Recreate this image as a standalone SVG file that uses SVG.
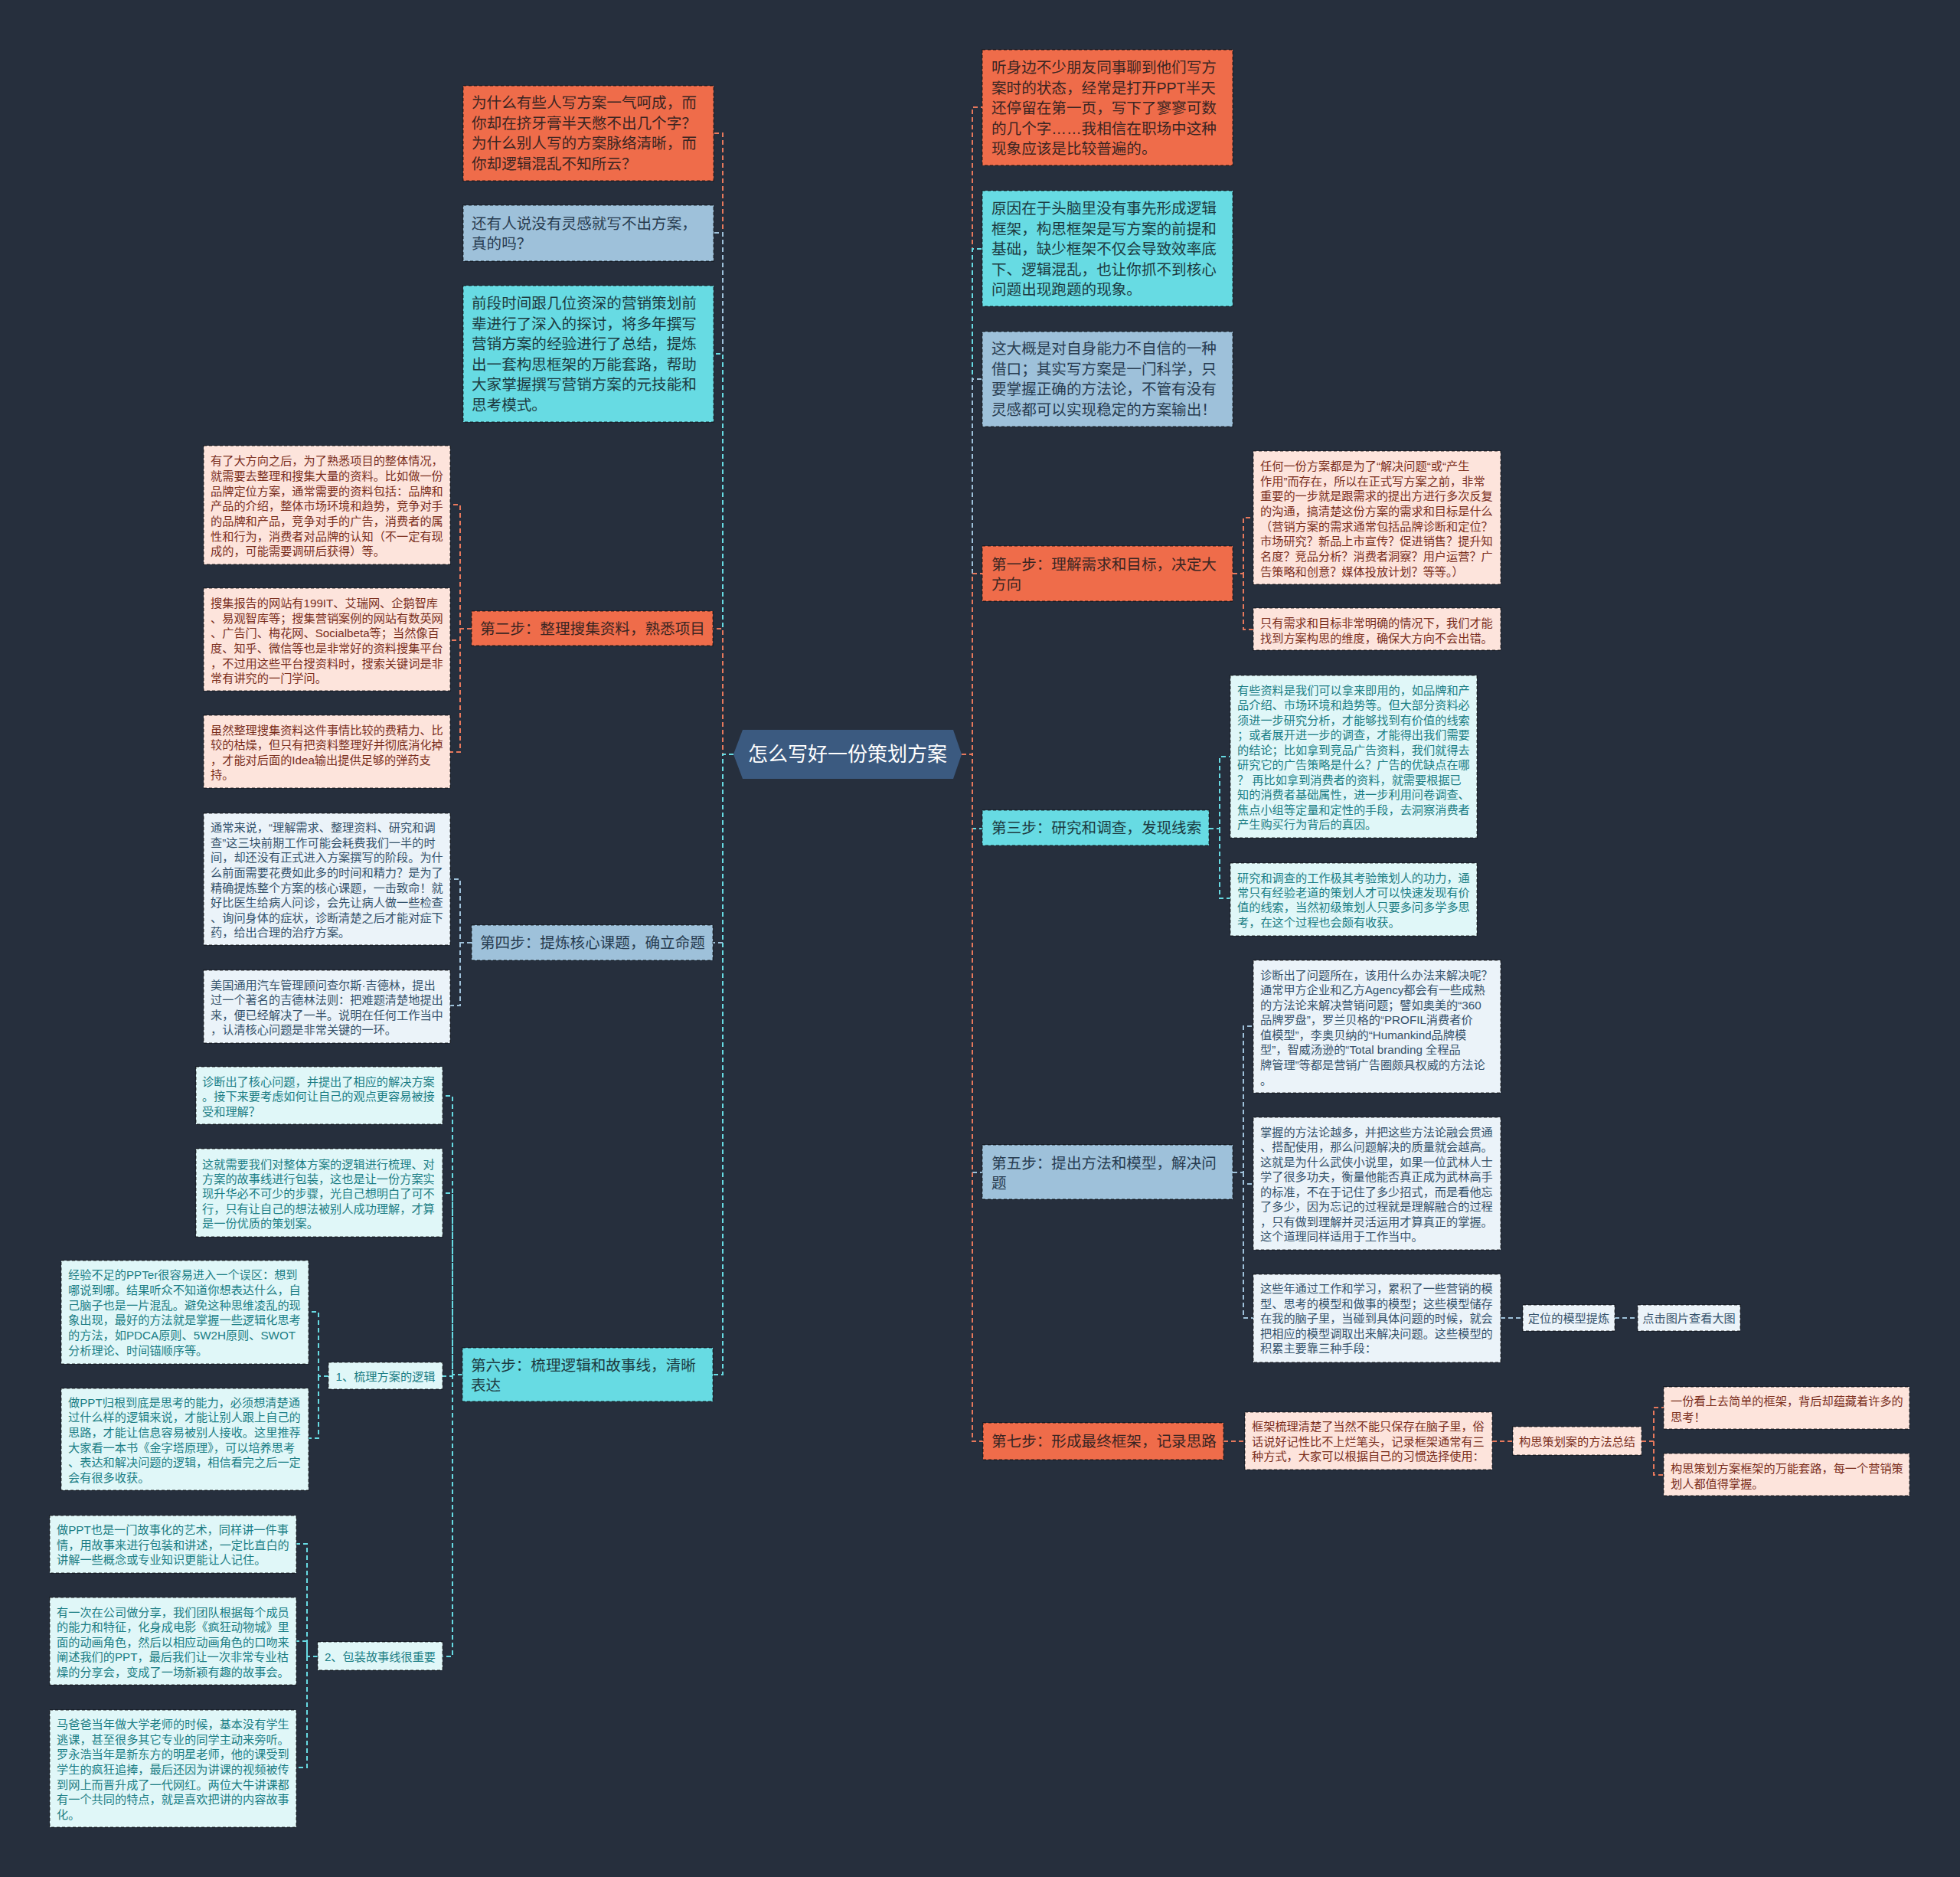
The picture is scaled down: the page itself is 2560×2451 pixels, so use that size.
<svg xmlns="http://www.w3.org/2000/svg" width="2560" height="2451" viewBox="0 0 2560 2451">
<style>
text{font-family:"Liberation Sans","Noto Sans CJK SC",sans-serif;dominant-baseline:central}
.big{font-size:19.6px}
.sm{font-size:15.2px}
.mid{text-anchor:middle}
.box{stroke:rgba(0,0,0,0.5);stroke-width:1.4;stroke-dasharray:4 3}
.o{fill:#ef6c4a}.b{fill:#9ec1da}.c{fill:#67dbe3}
.lp{fill:#fde4dc}.lb{fill:#ebf3f9}.lc{fill:#e0f7f8}
.to{fill:#3a2522}.tb{fill:#283c50}.tc{fill:#1c3a40}
.tlp{fill:#7a2e1c}.tlb{fill:#34526b}.tlc{fill:#1a7d84}
.ln{fill:none;stroke-width:2;stroke-dasharray:6 4}
.lo{stroke:#e7785c}.lbl{stroke:#9ec1da}.lcy{stroke:#67dbe3}
</style>
<rect width="2560" height="2451" fill="#262f3d"/>

<g id="connectors">
<path class="ln lo" d="M958 985H944V174H932"/>
<path class="ln lbl" d="M958 985H944V304H932"/>
<path class="ln lcy" d="M958 985H944V462H932"/>
<path class="ln lo" d="M958 985H944V821H931"/>
<path class="ln lbl" d="M958 985H944V1231H931"/>
<path class="ln lcy" d="M958 985H944V1795H931"/>
<path class="ln lo" d="M1256 985H1270V140H1283"/>
<path class="ln lcy" d="M1256 985H1270V325H1283"/>
<path class="ln lbl" d="M1256 985H1270V495H1283"/>
<path class="ln lo" d="M1256 985H1270V749H1283"/>
<path class="ln lcy" d="M1256 985H1270V1082H1283"/>
<path class="ln lbl" d="M1256 985H1270V1531H1283"/>
<path class="ln lo" d="M1256 985H1270V1882H1284"/>
<path class="ln lo" d="M616 821H601V659H588M601 821V836H588M601 821V982H588"/>
<path class="ln lbl" d="M616 1231H601V1148H588M601 1231V1313H588"/>
<path class="ln lcy" d="M604 1795H591V1431H578M591 1795V1558H578M591 1795V1797H578M591 1795V2163H578"/>
<path class="ln lcy" d="M429 1797H416V1713H403M416 1797V1878H403"/>
<path class="ln lcy" d="M415 2163H401V2016H387M401 2163V2143H387M401 2163V2308H387"/>
<path class="ln lo" d="M1610 749H1624V676H1637M1624 749V822H1637"/>
<path class="ln lcy" d="M1579 1082H1593V988H1607M1593 1082V1173H1607"/>
<path class="ln lbl" d="M1610 1531H1624V1340H1637M1624 1531V1546H1637M1624 1531V1721H1637"/>
<path class="ln lbl" d="M1960 1721H1989M2109 1721H2139"/>
<path class="ln lo" d="M1598 1882H1626M1949 1882H1976M2144 1882H2160V1838H2173M2160 1882V1926H2173"/>
</g>

<g id="center">
<polygon points="958,985 970,953 1245,953 1256,985 1245,1017 970,1017" fill="#3b5a80"/>
<text x="1107" y="985" class="mid" style="font-size:26px" fill="#ffffff">怎么写好一份策划方案</text>
</g>

<g id="L1">
<rect class="box o" x="605" y="112" width="327" height="124"/>
<g class="big to">
<text x="616" y="134">为什么有些人写方案一气呵成，而</text>
<text x="616" y="160.5">你却在挤牙膏半天憋不出几个字？</text>
<text x="616" y="187">为什么别人写的方案脉络清晰，而</text>
<text x="616" y="213.5">你却逻辑混乱不知所云？</text>
</g>
</g>
<g id="L2">
<rect class="box b" x="605" y="268" width="327" height="73"/>
<g class="big tb">
<text x="616" y="291.5">还有人说没有灵感就写不出方案，</text>
<text x="616" y="318">真的吗？</text>
</g>
</g>
<g id="L3">
<rect class="box c" x="605" y="373" width="327" height="178"/>
<g class="big tc">
<text x="616" y="396">前段时间跟几位资深的营销策划前</text>
<text x="616" y="422.5">辈进行了深入的探讨，将多年撰写</text>
<text x="616" y="449">营销方案的经验进行了总结，提炼</text>
<text x="616" y="475.5">出一套构思框架的万能套路，帮助</text>
<text x="616" y="502">大家掌握撰写营销方案的元技能和</text>
<text x="616" y="528.5">思考模式。</text>
</g>
</g>

<g id="step2">
<rect class="box o" x="616" y="798" width="315" height="45"/>
<text x="627" y="821" class="big to">第二步：整理搜集资料，熟悉项目</text>
</g>
<g id="leafA">
<rect class="box lp" x="266" y="582" width="322" height="155"/>
<g class="sm tlp">
<text x="275" y="601">有了大方向之后，为了熟悉项目的整体情况，</text>
<text x="275" y="621">就需要去整理和搜集大量的资料。比如做一份</text>
<text x="275" y="641">品牌定位方案，通常需要的资料包括：品牌和</text>
<text x="275" y="660.5">产品的介绍，整体市场环境和趋势，竞争对手</text>
<text x="275" y="680">的品牌和产品，竞争对手的广告，消费者的属</text>
<text x="275" y="700">性和行为，消费者对品牌的认知（不一定有现</text>
<text x="275" y="719.5">成的，可能需要调研后获得）等。</text>
</g>
</g>
<g id="leafB">
<rect class="box lp" x="266" y="768" width="322" height="134"/>
<g class="sm tlp">
<text x="275" y="787.5">搜集报告的网站有199IT、艾瑞网、企鹅智库</text>
<text x="275" y="807">、易观智库等；搜集营销案例的网站有数英网</text>
<text x="275" y="826.5">、广告门、梅花网、Socialbeta等；当然像百</text>
<text x="275" y="846">度、知乎、微信等也是非常好的资料搜集平台</text>
<text x="275" y="866">，不过用这些平台搜资料时，搜索关键词是非</text>
<text x="275" y="885.5">常有讲究的一门学问。</text>
</g>
</g>
<g id="leafC">
<rect class="box lp" x="266" y="934" width="322" height="95"/>
<g class="sm tlp">
<text x="275" y="953">虽然整理搜集资料这件事情比较的费精力、比</text>
<text x="275" y="972.5">较的枯燥，但只有把资料整理好并彻底消化掉</text>
<text x="275" y="992">，才能对后面的Idea输出提供足够的弹药支</text>
<text x="275" y="1011.5">持。</text>
</g>
</g>

<g id="step4">
<rect class="box b" x="616" y="1208" width="315" height="46"/>
<text x="627" y="1231" class="big tb">第四步：提炼核心课题，确立命题</text>
</g>
<g id="leafD">
<rect class="box lb" x="266" y="1062" width="322" height="172"/>
<g class="sm tlb">
<text x="275" y="1080">通常来说，“理解需求、整理资料、研究和调</text>
<text x="275" y="1100">查”这三块前期工作可能会耗费我们一半的时</text>
<text x="275" y="1119.5">间，却还没有正式进入方案撰写的阶段。为什</text>
<text x="275" y="1139">么前面需要花费如此多的时间和精力？是为了</text>
<text x="275" y="1159">精确提炼整个方案的核心课题，一击致命！就</text>
<text x="275" y="1178.5">好比医生给病人问诊，会先让病人做一些检查</text>
<text x="275" y="1198">、询问身体的症状，诊断清楚之后才能对症下</text>
<text x="275" y="1217.5">药，给出合理的治疗方案。</text>
</g>
</g>
<g id="leafE">
<rect class="box lb" x="266" y="1267" width="322" height="95"/>
<g class="sm tlb">
<text x="275" y="1286">美国通用汽车管理顾问查尔斯·吉德林，提出</text>
<text x="275" y="1305.5">过一个著名的吉德林法则：把难题清楚地提出</text>
<text x="275" y="1325">来，便已经解决了一半。说明在任何工作当中</text>
<text x="275" y="1344.5">，认清核心问题是非常关键的一环。</text>
</g>
</g>

<g id="step6">
<rect class="box c" x="604" y="1760" width="327" height="70"/>
<g class="big tc">
<text x="615" y="1783">第六步：梳理逻辑和故事线，清晰</text>
<text x="615" y="1809">表达</text>
</g>
</g>
<g id="leafF">
<rect class="box lc" x="256" y="1393" width="322" height="75"/>
<g class="sm tlc">
<text x="264" y="1412">诊断出了核心问题，并提出了相应的解决方案</text>
<text x="264" y="1431.5">。接下来要考虑如何让自己的观点更容易被接</text>
<text x="264" y="1451">受和理解？</text>
</g>
</g>
<g id="leafG">
<rect class="box lc" x="256" y="1500" width="322" height="115"/>
<g class="sm tlc">
<text x="264" y="1520">这就需要我们对整体方案的逻辑进行梳理、对</text>
<text x="264" y="1539">方案的故事线进行包装，这也是让一份方案实</text>
<text x="264" y="1558.5">现升华必不可少的步骤，光自己想明白了可不</text>
<text x="264" y="1578">行，只有让自己的想法被别人成功理解，才算</text>
<text x="264" y="1597.5">是一份优质的策划案。</text>
</g>
</g>
<g id="n1">
<rect class="box lc" x="429" y="1779" width="149" height="35"/>
<text x="503.5" y="1797" class="sm tlc mid">1、梳理方案的逻辑</text>
</g>
<g id="leafH">
<rect class="box lc" x="80" y="1646" width="323" height="135"/>
<g class="sm tlc">
<text x="89" y="1664">经验不足的PPTer很容易进入一个误区：想到</text>
<text x="89" y="1684">哪说到哪。结果听众不知道你想表达什么，自</text>
<text x="89" y="1704">己脑子也是一片混乱。避免这种思维凌乱的现</text>
<text x="89" y="1723.5">象出现，最好的方法就是掌握一些逻辑化思考</text>
<text x="89" y="1743">的方法，如PDCA原则、5W2H原则、SWOT</text>
<text x="89" y="1763">分析理论、时间锚顺序等。</text>
</g>
</g>
<g id="leafI">
<rect class="box lc" x="80" y="1813" width="323" height="133"/>
<g class="sm tlc">
<text x="89" y="1831">做PPT归根到底是思考的能力，必须想清楚通</text>
<text x="89" y="1850.5">过什么样的逻辑来说，才能让别人跟上自己的</text>
<text x="89" y="1870">思路，才能让信息容易被别人接收。这里推荐</text>
<text x="89" y="1890">大家看一本书《金字塔原理》，可以培养思考</text>
<text x="89" y="1909.5">、表达和解决问题的逻辑，相信看完之后一定</text>
<text x="89" y="1929">会有很多收获。</text>
</g>
</g>
<g id="n2">
<rect class="box lc" x="415" y="2144" width="163" height="37"/>
<text x="496.5" y="2163" class="sm tlc mid">2、包装故事线很重要</text>
</g>
<g id="leafJ">
<rect class="box lc" x="65" y="1979" width="322" height="75"/>
<g class="sm tlc">
<text x="74" y="1997">做PPT也是一门故事化的艺术，同样讲一件事</text>
<text x="74" y="2017">情，用故事来进行包装和讲述，一定比直白的</text>
<text x="74" y="2036.5">讲解一些概念或专业知识更能让人记住。</text>
</g>
</g>
<g id="leafK">
<rect class="box lc" x="65" y="2086" width="322" height="114"/>
<g class="sm tlc">
<text x="74" y="2105">有一次在公司做分享，我们团队根据每个成员</text>
<text x="74" y="2124.5">的能力和特征，化身成电影《疯狂动物城》里</text>
<text x="74" y="2144">面的动画角色，然后以相应动画角色的口吻来</text>
<text x="74" y="2163.5">阐述我们的PPT，最后我们让一次非常专业枯</text>
<text x="74" y="2183">燥的分享会，变成了一场新颖有趣的故事会。</text>
</g>
</g>
<g id="leafL">
<rect class="box lc" x="65" y="2233" width="322" height="153"/>
<g class="sm tlc">
<text x="74" y="2251">马爸爸当年做大学老师的时候，基本没有学生</text>
<text x="74" y="2271">逃课，甚至很多其它专业的同学主动来旁听。</text>
<text x="74" y="2290.5">罗永浩当年是新东方的明星老师，他的课受到</text>
<text x="74" y="2310">学生的疯狂追捧，最后还因为讲课的视频被传</text>
<text x="74" y="2330">到网上而晋升成了一代网红。两位大牛讲课都</text>
<text x="74" y="2349.5">有一个共同的特点，就是喜欢把讲的内容故事</text>
<text x="74" y="2369">化。</text>
</g>
</g>

<g id="R1">
<rect class="box o" x="1283" y="65" width="327" height="151"/>
<g class="big to">
<text x="1295" y="88">听身边不少朋友同事聊到他们写方</text>
<text x="1295" y="114.5">案时的状态，经常是打开PPT半天</text>
<text x="1295" y="141">还停留在第一页，写下了寥寥可数</text>
<text x="1295" y="167.5">的几个字……我相信在职场中这种</text>
<text x="1295" y="194">现象应该是比较普遍的。</text>
</g>
</g>
<g id="R2">
<rect class="box c" x="1283" y="249" width="327" height="151"/>
<g class="big tc">
<text x="1295" y="272">原因在于头脑里没有事先形成逻辑</text>
<text x="1295" y="298.5">框架，构思框架是写方案的前提和</text>
<text x="1295" y="325">基础，缺少框架不仅会导致效率底</text>
<text x="1295" y="351.5">下、逻辑混乱，也让你抓不到核心</text>
<text x="1295" y="378">问题出现跑题的现象。</text>
</g>
</g>
<g id="R3">
<rect class="box b" x="1283" y="433" width="327" height="124"/>
<g class="big tb">
<text x="1295" y="455">这大概是对自身能力不自信的一种</text>
<text x="1295" y="481.5">借口；其实写方案是一门科学，只</text>
<text x="1295" y="508">要掌握正确的方法论，不管有没有</text>
<text x="1295" y="534.5">灵感都可以实现稳定的方案输出！</text>
</g>
</g>

<g id="step1">
<rect class="box o" x="1283" y="713" width="327" height="72"/>
<g class="big to">
<text x="1295" y="737">第一步：理解需求和目标，决定大</text>
<text x="1295" y="763">方向</text>
</g>
</g>
<g id="R1a">
<rect class="box lp" x="1637" y="589" width="323" height="174"/>
<g class="sm tlp">
<text x="1646" y="608">任何一份方案都是为了“解决问题“或“产生</text>
<text x="1646" y="628">作用”而存在，所以在正式写方案之前，非常</text>
<text x="1646" y="647.5">重要的一步就是跟需求的提出方进行多次反复</text>
<text x="1646" y="667">的沟通，搞清楚这份方案的需求和目标是什么</text>
<text x="1646" y="687">（营销方案的需求通常包括品牌诊断和定位？</text>
<text x="1646" y="706.5">市场研究？新品上市宣传？促进销售？提升知</text>
<text x="1646" y="726">名度？竞品分析？消费者洞察？用户运营？广</text>
<text x="1646" y="746">告策略和创意？媒体投放计划？等等。）</text>
</g>
</g>
<g id="R1b">
<rect class="box lp" x="1637" y="794" width="323" height="55"/>
<g class="sm tlp">
<text x="1646" y="813.5">只有需求和目标非常明确的情况下，我们才能</text>
<text x="1646" y="833">找到方案构思的维度，确保大方向不会出错。</text>
</g>
</g>

<g id="step3">
<rect class="box c" x="1283" y="1058" width="296" height="46"/>
<text x="1295" y="1081" class="big tc">第三步：研究和调查，发现线索</text>
</g>
<g id="R3a">
<rect class="box lc" x="1607" y="882" width="322" height="212"/>
<g class="sm tlc">
<text x="1616" y="901">有些资料是我们可以拿来即用的，如品牌和产</text>
<text x="1616" y="920.5">品介绍、市场环境和趋势等。但大部分资料必</text>
<text x="1616" y="940">须进一步研究分析，才能够找到有价值的线索</text>
<text x="1616" y="959.5">；或者展开进一步的调查，才能得出我们需要</text>
<text x="1616" y="979">的结论；比如拿到竞品广告资料，我们就得去</text>
<text x="1616" y="998.5">研究它的广告策略是什么？广告的优缺点在哪</text>
<text x="1616" y="1018">？ 再比如拿到消费者的资料，就需要根据已</text>
<text x="1616" y="1037.5">知的消费者基础属性，进一步利用问卷调查、</text>
<text x="1616" y="1057">焦点小组等定量和定性的手段，去洞察消费者</text>
<text x="1616" y="1076.5">产生购买行为背后的真因。</text>
</g>
</g>
<g id="R3b">
<rect class="box lc" x="1607" y="1127" width="322" height="95"/>
<g class="sm tlc">
<text x="1616" y="1146">研究和调查的工作极其考验策划人的功力，通</text>
<text x="1616" y="1165">常只有经验老道的策划人才可以快速发现有价</text>
<text x="1616" y="1184.5">值的线索，当然初级策划人只要多问多学多思</text>
<text x="1616" y="1204">考，在这个过程也会颇有收获。</text>
</g>
</g>

<g id="step5">
<rect class="box b" x="1283" y="1495" width="327" height="71"/>
<g class="big tb">
<text x="1295" y="1519">第五步：提出方法和模型，解决问</text>
<text x="1295" y="1545">题</text>
</g>
</g>
<g id="R5a">
<rect class="box lb" x="1637" y="1254" width="323" height="173"/>
<g class="sm tlb">
<text x="1646" y="1273">诊断出了问题所在，该用什么办法来解决呢？</text>
<text x="1646" y="1292.5">通常甲方企业和乙方Agency都会有一些成熟</text>
<text x="1646" y="1312">的方法论来解决营销问题；譬如奥美的“360</text>
<text x="1646" y="1331.5">品牌罗盘”，罗兰贝格的“PROFIL消费者价</text>
<text x="1646" y="1351">值模型”，李奥贝纳的“Humankind品牌模</text>
<text x="1646" y="1370.5">型”，智威汤逊的“Total branding 全程品</text>
<text x="1646" y="1390">牌管理”等都是营销广告圈颇具权威的方法论</text>
<text x="1646" y="1410">。</text>
</g>
</g>
<g id="R5b">
<rect class="box lb" x="1637" y="1459" width="323" height="173"/>
<g class="sm tlb">
<text x="1646" y="1478">掌握的方法论越多，并把这些方法论融会贯通</text>
<text x="1646" y="1497.5">、搭配使用，那么问题解决的质量就会越高。</text>
<text x="1646" y="1517">这就是为什么武侠小说里，如果一位武林人士</text>
<text x="1646" y="1536.5">学了很多功夫，衡量他能否真正成为武林高手</text>
<text x="1646" y="1556">的标准，不在于记住了多少招式，而是看他忘</text>
<text x="1646" y="1575.5">了多少，因为忘记的过程就是理解融合的过程</text>
<text x="1646" y="1595">，只有做到理解并灵活运用才算真正的掌握。</text>
<text x="1646" y="1614.5">这个道理同样适用于工作当中。</text>
</g>
</g>
<g id="R5c">
<rect class="box lb" x="1637" y="1664" width="323" height="115"/>
<g class="sm tlb">
<text x="1646" y="1682.5">这些年通过工作和学习，累积了一些营销的模</text>
<text x="1646" y="1702">型、思考的模型和做事的模型；这些模型储存</text>
<text x="1646" y="1721.5">在我的脑子里，当碰到具体问题的时候，就会</text>
<text x="1646" y="1741">把相应的模型调取出来解决问题。这些模型的</text>
<text x="1646" y="1760.5">积累主要靠三种手段：</text>
</g>
</g>
<g id="n-dingwei">
<rect class="box lb" x="1989" y="1704" width="120" height="34"/>
<text x="2049" y="1721" class="sm tlb mid">定位的模型提炼</text>
</g>
<g id="n-dianji">
<rect class="box lb" x="2139" y="1704" width="134" height="34"/>
<text x="2206" y="1721" class="sm tlb mid">点击图片查看大图</text>
</g>

<g id="step7">
<rect class="box o" x="1284" y="1858" width="314" height="48"/>
<text x="1295" y="1882" class="big to">第七步：形成最终框架，记录思路</text>
</g>
<g id="K7">
<rect class="box lp" x="1626" y="1844" width="323" height="75"/>
<g class="sm tlp">
<text x="1635" y="1862">框架梳理清楚了当然不能只保存在脑子里，俗</text>
<text x="1635" y="1882">话说好记性比不上烂笔头，记录框架通常有三</text>
<text x="1635" y="1901.5">种方式，大家可以根据自己的习惯选择使用：</text>
</g>
</g>
<g id="n-zongjie">
<rect class="box lp" x="1976" y="1863" width="168" height="37"/>
<text x="2060" y="1882" class="sm tlp mid">构思策划案的方法总结</text>
</g>
<g id="leafS1">
<rect class="box lp" x="2173" y="1811" width="321" height="55"/>
<g class="sm tlp">
<text x="2182" y="1829.5">一份看上去简单的框架，背后却蕴藏着许多的</text>
<text x="2182" y="1850">思考！</text>
</g>
</g>
<g id="leafS2">
<rect class="box lp" x="2173" y="1898" width="321" height="55"/>
<g class="sm tlp">
<text x="2182" y="1917">构思策划方案框架的万能套路，每一个营销策</text>
<text x="2182" y="1937">划人都值得掌握。</text>
</g>
</g>
</svg>
